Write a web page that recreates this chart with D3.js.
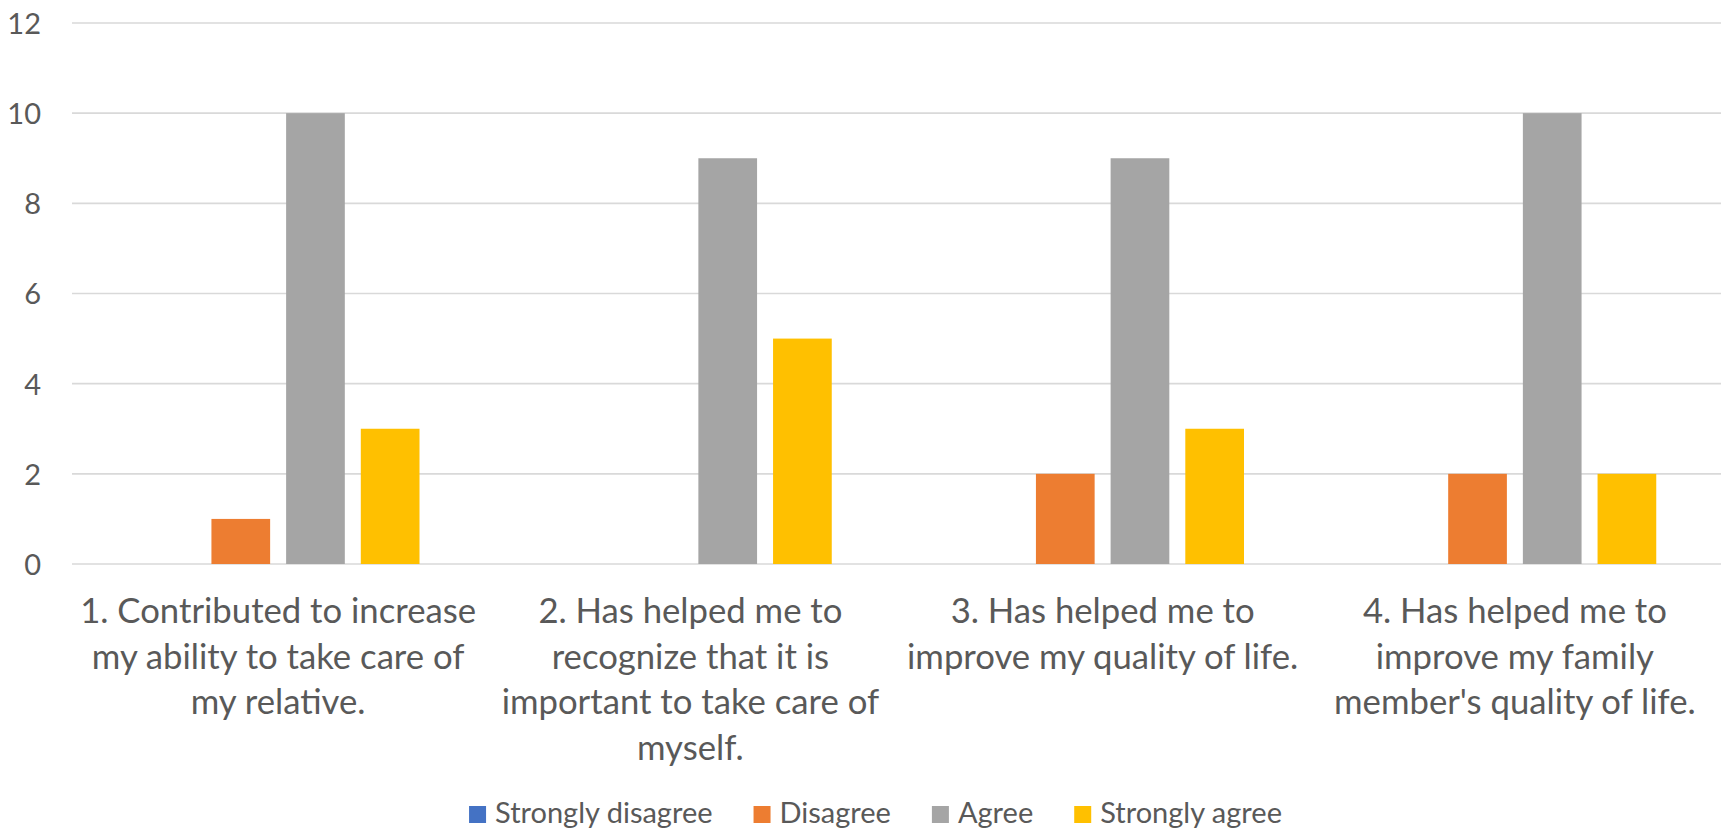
<!DOCTYPE html>
<html>
<head>
<meta charset="utf-8">
<script src="https://cdn.jsdelivr.net/npm/d3@7"></script>
<style>
  html, body { margin: 0; padding: 0; background: #ffffff; }
  svg { display: block; }
  text { font-family: Lato, "Open Sans", "Liberation Sans", sans-serif; fill: #595959; }
</style>
</head>
<body>
<svg id="chart" width="1727" height="829"></svg>
<script>
// ---- data ----
const categories = [
  "1. Contributed to increase\nmy ability to take care of\nmy relative.",
  "2. Has helped me to\nrecognize that it is\nimportant to take care of\nmyself.",
  "3. Has helped me to\nimprove my quality of life.",
  "4. Has helped me to\nimprove my family\nmember's quality of life."
];
const seriesNames = ["Strongly disagree", "Disagree", "Agree", "Strongly agree"];
const stronglyDisagree = [0, 0, 0, 0];
const disagree = [1, 0, 2, 2];
const agree = [10, 9, 9, 10];
const stronglyAgree = [3, 5, 3, 2];
const yTicks = [0, 2, 4, 6, 8, 10, 12];
const colors = ["#4472C4", "#ED7D31", "#A5A5A5", "#FFC000"];

const seriesValues = [stronglyDisagree, disagree, agree, stronglyAgree];

// ---- layout ----
const W = 1727, H = 829;
const plot = { left: 72, right: 1721, top: 23, bottom: 564 };
const svg = d3.select("#chart");

const y = d3.scaleLinear().domain([0, 12]).range([plot.bottom, plot.top]);
const x0 = d3.scaleBand().domain(d3.range(categories.length)).range([plot.left, plot.right]).padding(0);
const x1 = d3.scaleBand().domain(d3.range(seriesNames.length))
  .range([0, x0.bandwidth()]).paddingInner(0.214).paddingOuter(0.867);

// gridlines
svg.append("g")
  .selectAll("line")
  .data(yTicks)
  .join("line")
  .attr("x1", plot.left).attr("x2", plot.right)
  .attr("y1", d => y(d)).attr("y2", d => y(d))
  .attr("stroke", "#D9D9D9").attr("stroke-width", 1.6);

// y axis labels via d3 axis
const yAxis = d3.axisLeft(y).tickValues(yTicks).tickSize(0).tickPadding(0).tickFormat(d3.format("d"));
const gy = svg.append("g").attr("transform", `translate(${41},0)`).call(yAxis);
gy.select(".domain").remove();
gy.selectAll("text")
  .attr("font-size", 29)
  .attr("font-family", "Lato, 'Open Sans', sans-serif")
  .attr("fill", "#595959")
  .attr("dy", "0.36em");

// bars
const groups = svg.append("g")
  .selectAll("g")
  .data(categories.map((c, i) => i))
  .join("g")
  .attr("transform", i => `translate(${x0(i)},0)`);

groups.selectAll("rect")
  .data(i => seriesValues.map((vals, s) => ({ s, v: vals[i] })))
  .join("rect")
  .attr("x", d => x1(d.s))
  .attr("width", x1.bandwidth())
  .attr("y", d => y(d.v))
  .attr("height", d => y(0) - y(d.v))
  .attr("fill", d => colors[d.s]);

// category labels
const lineH = 45.5;
const firstBaseline = 623;
const cat = svg.append("g")
  .selectAll("text")
  .data(categories)
  .join("text")
  .attr("text-anchor", "middle")
  .attr("font-size", 34.7)
  .attr("x", (d, i) => x0(i) + x0.bandwidth() / 2)
  .attr("y", firstBaseline);
cat.selectAll("tspan")
  .data(d => d.split("\n"))
  .join("tspan")
  .attr("x", function () { return this.parentNode.getAttribute("x"); })
  .attr("y", (d, j) => firstBaseline + j * lineH)
  .text(d => d);

// legend
const legend = svg.append("g");
const sq = 17, gapSq = 9, gapItem = 41;
const legendBaseline = 823;
const items = legend.selectAll("g")
  .data(seriesNames)
  .join("g");
items.append("rect")
  .attr("width", sq).attr("height", sq)
  .attr("y", legendBaseline - sq)
  .attr("fill", (d, i) => colors[i]);
items.append("text")
  .attr("x", sq + gapSq)
  .attr("y", legendBaseline)
  .attr("font-size", 29)
  .text(d => d);
let cx = 0;
const offsets = [];
items.each(function () {
  const w = d3.select(this).select("text").node().getComputedTextLength();
  offsets.push(cx);
  cx += sq + gapSq + w + gapItem;
});
const totalW = cx - gapItem;
const startX = 875.5 - totalW / 2;
items.attr("transform", (d, i) => `translate(${startX + offsets[i]},0)`);
</script>
</body>
</html>
